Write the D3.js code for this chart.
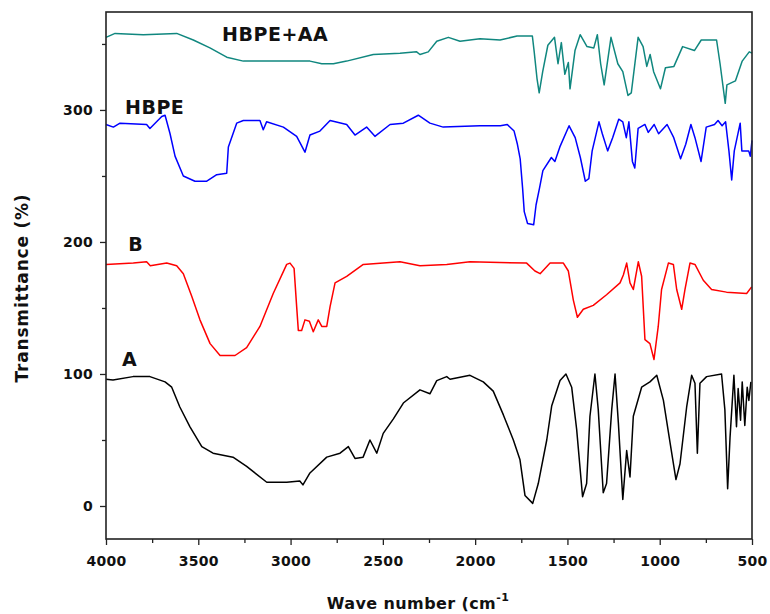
<!DOCTYPE html>
<html>
<head>
<meta charset="utf-8">
<script src="https://cdn.jsdelivr.net/npm/d3@7"></script>
<style>
  body { margin: 0; background: #fff; }
  text { font-family: "DejaVu Sans", sans-serif; font-weight: bold; fill: #111; }
</style>
</head>
<body>
<svg width="770" height="614"></svg>
<script>
// FTIR spectra, wave number (cm-1) vs transmittance (%), offset curves

var waveA  = [4000,3962,3854,3762,3680,3644,3600,3545,3481,3420,3312,3238,3129,3021,2950,2933,2895,2804,2732,2687,2651,2607,2570,2533,2498,2443,2389,2299,2245,2208,2154,2136,2028,1956,1902,1847,1793,1757,1730,1688,1658,1612,1585,1540,1508,1477,1450,1418,1396,1378,1351,1333,1306,1288,1260,1242,1224,1200,1179,1161,1143,1098,1053,1016,980,944,912,890,854,827,809,796,782,746,665,647,632,619,598,584,575,562,553,539,526,517,506];
var transA = [96,95.5,98,98,94,90,75,60,45,40,37,30,18,18,19,16,25,37,40,45,36,37,50,40,55,66,78,88,85,95,98,96,99,94,87,69,50,35,8,2,17,50,76,95,100,90,58,7,17,68,100,73,10,17,73,100,63,5,42,22,68,90,94,99,80,48,20,32,75,99,93,40,93,98,100,73,13,52,99,60,89,65,94,61,90,80,94];

var waveB  = [4000,3852,3780,3760,3671,3617,3581,3536,3491,3436,3382,3301,3238,3166,3094,3021,3003,2981,2967,2958,2940,2922,2898,2877,2850,2831,2804,2786,2759,2696,2606,2407,2299,2154,2028,1721,1676,1648,1594,1522,1495,1468,1446,1414,1360,1288,1215,1197,1179,1161,1143,1116,1098,1080,1053,1031,1008,990,953,926,908,881,863,836,809,764,719,638,529,502];
var transB = [183,184,185,182,184,182,176,159,141,123,114,114,120,136,161,183,184,180,151,133,133,141,140,132,141,136,136,151,169,174,183,185,182,183,185,184,178,176,184,184,178,156,143,149,152,160,169,175,184,169,164,185,174,126,123,111,136,164,184,183,164,149,164,184,183,171,164,162,161,166];

var waveHBPE  = [4000,3960,3924,3780,3762,3698,3680,3653,3626,3581,3518,3454,3400,3346,3337,3292,3256,3166,3148,3130,3039,2967,2922,2895,2841,2786,2696,2651,2588,2543,2461,2389,2308,2245,2173,1974,1863,1826,1789,1771,1756,1743,1734,1716,1683,1670,1651,1633,1587,1568,1541,1491,1458,1430,1403,1384,1366,1329,1311,1282,1255,1222,1200,1181,1167,1148,1135,1117,1080,1062,1030,1006,960,924,887,859,831,809,776,748,703,684,662,643,625,610,596,564,555,518,509,500];
var transHBPE = [289,287,290,289,286,295,296,282,265,250,246,246,251,252,272,290,292,292,285,291,287,280,268,281,284,292,289,281,287,280,289,290,296,290,287,288,288,289,284,274,263,241,223,214,213,228,241,254,264,261,272,288,279,264,246,248,269,291,282,269,279,293,291,279,291,261,256,286,289,283,289,282,289,279,263,274,289,279,261,287,289,292,288,291,269,247,269,290,269,269,265,277];

var waveAA  = [4000,3951,3798,3617,3527,3437,3346,3256,3003,2895,2831,2768,2696,2552,2407,2317,2299,2254,2208,2145,2082,1974,1865,1773,1690,1680,1665,1653,1634,1606,1570,1551,1533,1514,1495,1486,1459,1431,1394,1357,1338,1320,1301,1264,1227,1200,1172,1154,1117,1090,1070,1052,1033,996,969,923,876,812,775,692,673,645,636,590,553,515,500];
var transAA = [355,358,357,358,353,347,340,337,337,337,335,335,337,342,343,344,342,344,352,355,352,354,353,356,356,344,324,313,329,349,355,335,351,327,336,316,345,357,348,347,357,335,319,355,335,329,311,313,355,348,333,342,329,316,332,333,348,345,353,353,335,305,319,322,337,344,343];

var seriesNames  = ["A", "B", "HBPE", "HBPE+AA"];
var seriesColors = ["#000000", "#ff0000", "#0000ff", "#10877f"];
var xTicks = [4000, 3500, 3000, 2500, 2000, 1500, 1000, 500];
var yTicks = [0, 100, 200, 300];

var svg = d3.select("svg"),
    margin = {top: 12, right: 18, bottom: 75, left: 106},
    width = svg.attr("width") - margin.left - margin.right,
    height = svg.attr("height") - margin.top - margin.bottom,
    g = svg.append("g")
      .attr("transform", "translate(" + margin.left + "," + margin.top + ")");

var x = d3.scaleLinear().domain([4000, 500]).range([0, width]);
var y = d3.scaleLinear().domain([-25, 374.2]).range([height, 0]);

var series = [
  {name: "A", wave: waveA, trans: transA, label: [3913, 106]},
  {name: "B", wave: waveB, trans: transB, label: [3880, 193]},
  {name: "HBPE", wave: waveHBPE, trans: transHBPE, label: [3897, 297]},
  {name: "HBPE+AA", wave: waveAA, trans: transAA, label: [3371, 352]}
];

var line = d3.line()
  .x(function(d) { return x(d[0]); })
  .y(function(d) { return y(d[1]); });

g.selectAll(".spec")
  .data(series)
  .enter().append("path")
  .attr("class", "spec")
  .attr("fill", "none")
  .attr("stroke-width", 1.5)
  .attr("stroke-linejoin", "round")
  .attr("stroke", function(d) { return seriesColors[seriesNames.indexOf(d.name)]; })
  .attr("d", function(d) { return line(d.wave.map(function(w, i) { return [w, d.trans[i]]; })); });

// curve labels
g.selectAll(".lbl")
  .data(series)
  .enter().append("text")
  .attr("class", "lbl")
  .attr("x", function(d) { return x(d.label[0]); })
  .attr("y", function(d) { return y(d.label[1]); })
  .style("font-size", "19px")
  .style("letter-spacing", "0.5px")
  .text(function(d) { return d.name; });

// axes
g.append("g")
  .attr("transform", "translate(0," + height + ")")
  .call(d3.axisBottom(x).tickValues(xTicks).tickSize(6).tickPadding(11).tickFormat(d3.format("d")));
g.append("g")
  .attr("transform", "translate(0," + height + ")")
  .call(d3.axisBottom(x).tickValues(d3.range(3750, 500, -500)).tickSize(4).tickFormat(""));

g.append("g")
  .call(d3.axisLeft(y).tickValues(yTicks).tickSize(6).tickPadding(7));
g.append("g")
  .call(d3.axisLeft(y).tickValues([50, 150, 250, 350]).tickSize(4).tickFormat(""));

g.selectAll(".domain").remove();
g.selectAll(".tick line").attr("stroke", "#222").attr("stroke-width", 1.3);
g.selectAll(".tick text")
  .style("font-size", "14px")
  .style("font-family", "'DejaVu Sans', sans-serif")
  .style("font-weight", "bold")
  .style("letter-spacing", "0.3px")
  .attr("fill", "#111");

// frame
g.append("rect")
  .attr("width", width)
  .attr("height", height)
  .attr("fill", "none")
  .attr("stroke", "#222")
  .attr("stroke-width", 1.6);

// axis titles
svg.append("text")
  .attr("transform", "translate(28,288) rotate(-90)")
  .attr("text-anchor", "middle")
  .style("font-size", "17px")
  .style("letter-spacing", "0.8px")
  .text("Transmittance (%)");

var xt = svg.append("text")
  .attr("x", 418)
  .attr("y", 609)
  .attr("text-anchor", "middle")
  .style("font-size", "16px")
  .style("letter-spacing", "0.4px");
xt.append("tspan").text("Wave number (cm");
xt.append("tspan").attr("dy", -8).style("font-size", "11px").text("-1");
</script>
</body>
</html>
